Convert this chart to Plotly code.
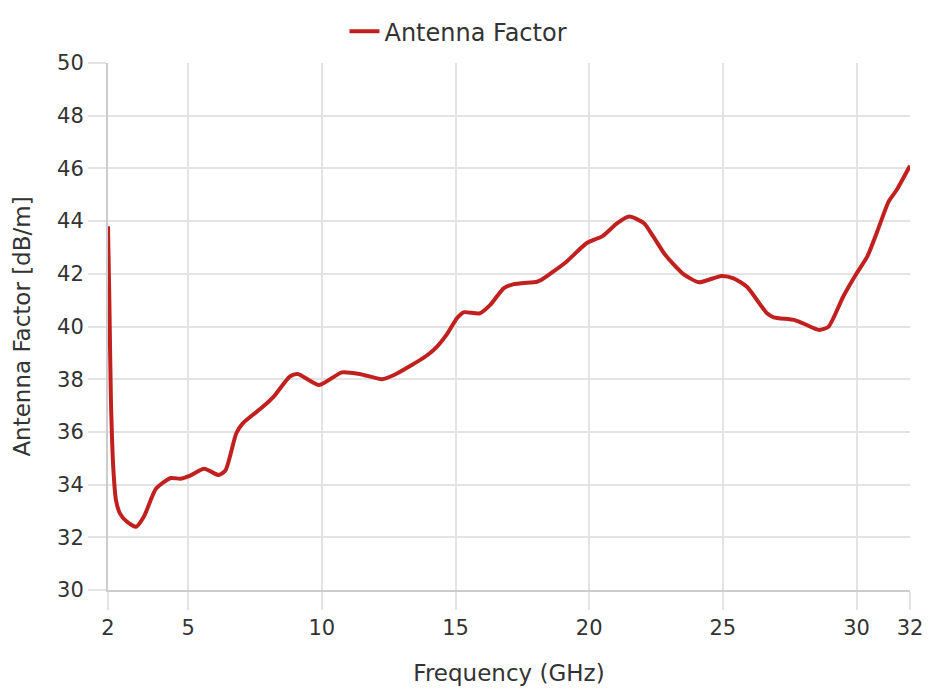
import plotly.graph_objects as go

freq_ghz = [2.0, 2.05, 2.11, 2.2, 2.3, 2.45, 2.7, 3.05, 3.35, 3.8, 4.35, 4.7, 5.05, 5.6,
            6.15, 6.4, 6.8, 7.05, 7.8, 8.2, 8.8, 9.1, 9.9, 10.75, 11.45, 12.25, 12.7,
            13.3, 13.9, 14.3, 14.7, 15.05, 15.3, 15.9, 16.3, 16.8, 17.15, 18.05, 18.2,
            19.15, 19.9, 20.5, 21.05, 21.5, 22.05, 22.4, 22.85, 23.5, 24.1, 24.95, 25.4,
            25.9, 26.65, 26.9, 27.65, 28.0, 28.6, 28.95, 29.5, 30.0, 30.4, 30.75, 31.2,
            31.5, 32.0]
antenna_factor = [43.8, 41.0, 37.2, 34.6, 33.4, 32.9, 32.6, 32.4, 32.8, 33.85, 34.25, 34.22,
                  34.33, 34.6, 34.36, 34.55, 35.95, 36.33, 36.96, 37.34, 38.1, 38.2, 37.78,
                  38.26, 38.19, 38.0, 38.16, 38.5, 38.88, 39.23, 39.74, 40.31, 40.54, 40.5,
                  40.82, 41.45, 41.6, 41.7, 41.76, 42.46, 43.16, 43.43, 43.92, 44.17, 43.92,
                  43.41, 42.71, 42.01, 41.68, 41.92, 41.83, 41.51, 40.5, 40.35, 40.25, 40.12,
                  39.87, 39.99, 41.13, 42.01, 42.65, 43.54, 44.74, 45.18, 46.1]

x_ticks = [2, 5, 10, 15, 20, 25, 30, 32]
y_ticks = list(range(30, 51, 2))

FONT = "DejaVu Sans"
TXT = "#333333"
GRID = "#e3e3e3"
AXIS = "#cccccc"

fig = go.Figure()
fig.add_trace(go.Scatter(
    x=freq_ghz, y=antenna_factor, mode="lines", name="Antenna Factor",
    line=dict(color="#c0201e", width=4, shape="spline", smoothing=0.6),
))

fig.update_layout(
    width=922, height=688,
    margin=dict(l=100, r=20, t=55, b=106, autoexpand=False),
    paper_bgcolor="white", plot_bgcolor="white",
    font=dict(family=FONT, size=22, color=TXT),
    showlegend=True,
    legend=dict(orientation="h", x=0.437, xanchor="center", y=1.017, yanchor="bottom",
                font=dict(size=24, color=TXT), itemwidth=30),
    xaxis=dict(
        range=[2, 32], tickvals=x_ticks, ticktext=[str(v) for v in x_ticks],
        showgrid=True, gridcolor=GRID, gridwidth=1.5,
        showline=True, linecolor=AXIS, linewidth=2,
        ticks="outside", ticklen=18, tickcolor=GRID, tickwidth=1.5,
        tickfont=dict(size=21, color=TXT), zeroline=False, automargin=False,
        title=dict(text="Frequency (GHz)", font=dict(size=23, color=TXT), standoff=26),
    ),
    yaxis=dict(
        range=[30, 50], tickvals=y_ticks,
        showgrid=True, gridcolor=GRID, gridwidth=1.5,
        showline=True, linecolor=AXIS, linewidth=2,
        ticks="outside", ticklen=18, tickcolor=GRID, tickwidth=1.5,
        tickfont=dict(size=21, color=TXT), zeroline=False, automargin=False,
        title=dict(text="Antenna Factor [dB/m]", font=dict(size=23, color=TXT), standoff=20),
    ),
)

fig.write_html("out.html")
